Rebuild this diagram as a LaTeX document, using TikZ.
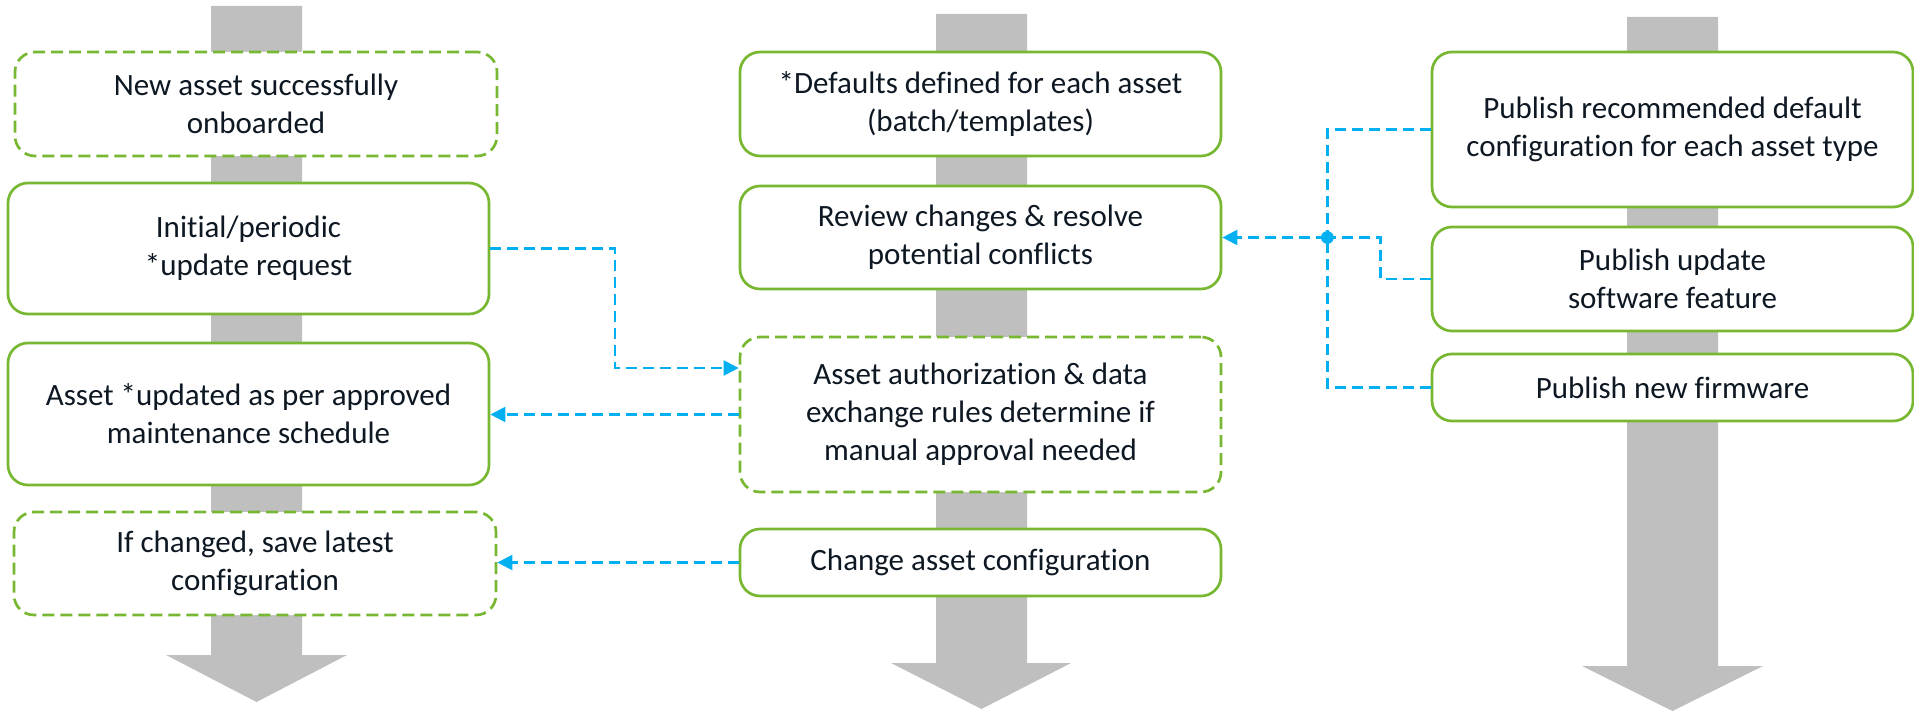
\documentclass[tikz,border=0pt]{standalone}
\usepackage{fontspec}
\setmainfont{Carlito}[Ligatures=NoCommon]
\usetikzlibrary{arrows.meta}
\definecolor{grn}{HTML}{77B731}
\definecolor{blu}{HTML}{00B0F0}
\definecolor{gry}{HTML}{BFBFBF}
\definecolor{txt}{HTML}{0E1823}
\begin{document}
\begin{tikzpicture}[x=0.5pt,y=-0.5pt,
  box/.style={draw=grn, line width=1.35pt, rounded corners=10pt, fill=white,
    text=txt, align=center, font=\fontsize{15.5}{19}\selectfont,
    minimum width=240.5pt, inner sep=0pt},
  dbox/.style={box, dash pattern=on 6pt off 3pt},
  conn/.style={draw=blu, line width=1.15pt, dash pattern=on 5.5pt off 3pt},
  arr/.style={conn, -{Triangle[length=7.5pt,width=7.5pt]}},
  flow/.style={fill=gry}]
\useasboundingbox (0,0) rectangle (1914,711);
% grey flow arrows
\fill[flow] (211,6) -- (302,6) -- (302,655) -- (347,655) -- (256.5,702) -- (166,655) -- (211,655) -- cycle;
\fill[flow] (936,14) -- (1027,14) -- (1027,663) -- (1071,663) -- (981.5,709) -- (891,663) -- (936,663) -- cycle;
\fill[flow] (1627,17) -- (1718,17) -- (1718,666) -- (1763,666) -- (1672.5,711) -- (1582,666) -- (1627,666) -- cycle;
% left column
\node[dbox, minimum height=52pt, minimum width=241pt] (L1) at (256,104) {New asset successfully\\onboarded};
\node[box, minimum height=65.5pt] (L2) at (248.5,248.5) {Initial/periodic\\*update request};
\node[box, minimum height=71pt] (L3) at (248.5,414) {Asset *updated as per approved\\maintenance schedule};
\node[dbox, minimum height=51.5pt, minimum width=241pt] (L4) at (255,563.5) {If changed, save latest\\configuration};
% middle column
\node[box, minimum height=52pt] (M1) at (980.5,104) {*Defaults defined for each asset\\(batch/templates)};
\node[box, minimum height=51.5pt] (M2) at (980.5,237.5) {Review changes \& resolve\\potential conflicts};
\node[dbox, minimum height=77.5pt] (M3) at (980.5,414.5) {Asset authorization \& data\\exchange rules determine if\\manual approval needed};
\node[box, minimum height=33.5pt] (M4) at (980.5,562.5) {Change asset configuration};
% right column
\node[box, minimum height=77.5pt] (R1) at (1672.5,129.5) {Publish recommended default\\configuration for each asset type};
\node[box, minimum height=52pt] (R2) at (1672.5,279) {Publish update\\software feature};
\node[box, minimum height=33.5pt] (R3) at (1672.5,387.5) {Publish new firmware};
% connectors
\coordinate (c1) at (615,368);
\draw[arr] (L2.east) -| (c1) -- (c1 -| M3.west);
\draw[arr] (M3.west) -- (M3.west -| L3.east);
\draw[arr] (M4.west) -- (M4.west -| L4.east);
\path (M2.east) ++(105,0) coordinate (J);
\path (J) ++(53,0) coordinate (E);
\draw[conn] (R1.west) -| (J);
\draw[conn] (R3.west) -| (J);
\draw[conn] (R2.west) -| (E) -- (J);
\draw[arr] (J) -- (M2.east);
\fill[blu] (J) circle (3.2pt);
\end{tikzpicture}
\end{document}
